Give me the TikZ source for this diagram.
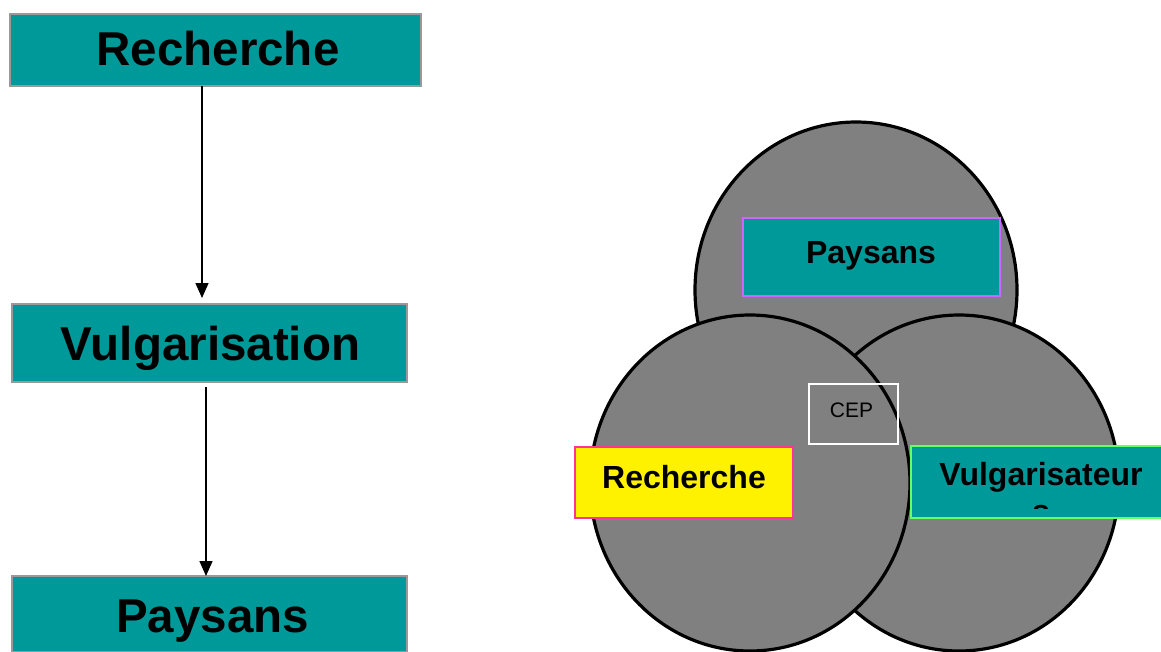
\documentclass[tikz,border=0pt]{standalone}
\usepackage{fontspec}
\setmainfont{Liberation Sans}
\usetikzlibrary{arrows.meta}
\definecolor{tealbox}{HTML}{009999}
\definecolor{disc}{HTML}{808080}
\definecolor{boxedge}{HTML}{999999}
\definecolor{violetedge}{HTML}{CC66FF}
\definecolor{pinkedge}{HTML}{FF3399}
\definecolor{greenedge}{HTML}{66FF66}
\tikzset{
  flowbox/.style={draw=boxedge, line width=1.5pt, fill=tealbox, inner sep=0pt, outer sep=0pt},
  bigtxt/.style={font=\fontsize{47.5}{57}\selectfont\bfseries, inner sep=0pt, anchor=base},
  midtxt/.style={font=\fontsize{32}{37}\selectfont\bfseries, inner sep=0pt, anchor=base},
  smalltxt/.style={font=\fontsize{21}{25}\selectfont, inner sep=0pt, anchor=base},
  flowarrow/.style={line width=1.5pt, -{Triangle[length=15pt,width=13pt]}},
  disk/.style={draw=black, line width=3.2pt, fill=disc},
  tagbox/.style={line width=1.5pt, inner sep=0pt, outer sep=0pt}
}
\begin{document}
\begin{tikzpicture}[x=1pt,y=-1pt]
\clip (0,0) rectangle (1161,651);
\fill[white] (0,0) rectangle (1161,651);

% linear chain on the left
\node[flowbox, minimum width=411pt, minimum height=72pt] (rech) at (215.5,50) {};
\node[flowbox, minimum width=395pt, minimum height=78pt] (vulg) at (209.5,343) {};
\node[flowbox, minimum width=395pt, minimum height=76pt] (pays) at (209.5,614) {};
\node[bigtxt] (rech-t) at (218,65) {Recherche};
\node[bigtxt] (vulg-t) at (210.5,360) {Vulgarisation};
\node[bigtxt] (pays-t) at (212.5,632) {Paysans};
\draw[flowarrow, shorten >=6pt] ([xshift=-13.5pt]rech.south) -- ([xshift=-7.5pt]vulg.north);
\draw[flowarrow, shorten <=5pt] ([xshift=-3.5pt]vulg.south) -- ([xshift=-3.5pt]pays.north);

% three overlapping discs on the right
\draw[disk] (856,290) ellipse [x radius=161, y radius=168];
\draw[disk] (959,483) ellipse [x radius=160, y radius=168];
\draw[disk] (750,483) ellipse [x radius=160, y radius=168];

\node[tagbox, draw=violetedge, fill=tealbox, minimum width=257pt, minimum height=78pt] (paysR) at (871.5,257) {};
\node[midtxt] (paysR-t) at (871,263) {Paysans};

\node[tagbox, draw=white, line width=2pt, minimum width=89pt, minimum height=60pt] (cep) at (853.5,414) {};
\node[smalltxt] (cep-t) at (851.5,417) {CEP};

\node[tagbox, draw=pinkedge, fill=yellow, minimum width=218pt, minimum height=71pt] (rechR) at (684,482.5) {};
\node[midtxt] (rechR-t) at (684,488) {Recherche};

\node[tagbox, draw=greenedge, fill=tealbox, minimum width=260pt, minimum height=72pt] (vulgR) at (1041,482) {};
\begin{scope}
  % the wrapped word is cut off by the text frame
  \clip (911,446) rectangle (1171,508);
  \node[midtxt, align=center] (vulgR-t) at (1041,522) {Vulgarisateur\\s};
\end{scope}
\end{tikzpicture}
\end{document}
